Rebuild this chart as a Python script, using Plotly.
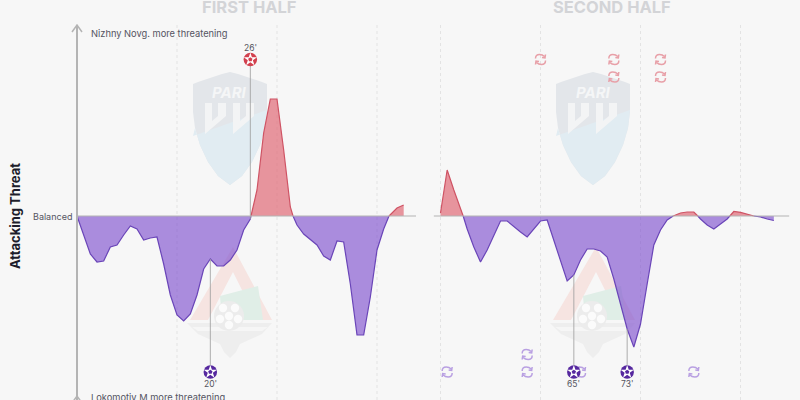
import plotly.graph_objects as go

# ---- data (minutes, threat) ----
first_min = [0,1,2,3,4,5,6,7,8,9,10,11,12,13,14,15,16,17,18,19,20,21,22,23,24,25,26,26.1,
             27,28,29,30,31,32,32.4,33,34,35,36,37,38,39,40,41,42,43,44,45,46,46.8,48,49]
first_val = [0,-19,-38,-46,-45,-31,-29,-19,-10,-13,-24,-22,-21,-48,-79,-99,-105,-98,-79,-53,-43,-50,-50,-44,-34,-14,-3,0,
             26,83,117,117,66,9,0,-9,-18,-24,-29,-40,-44,-25,-26,-68,-119,-119,-81,-34,-13,0,8,11]
second_min = [45,46,47,48,48.4,49,50,51,52,53,54,55,56,57,58,59,60,61,62,63,64,65,66,67,68,69,70,71,72,73,74,75,76,77,78,79,79.9,
              81,82,83,83.6,84,85,86,87,88,88.4,89,90,91,92,93,94,95]
second_val = [3,46,26,6,0,-13,-31,-46,-34,-19,-5,-5,-11,-16,-21,-13,-5,-4,-24,-46,-65,-59,-44,-33,-33,-35,-41,-63,-88,-113,-131,-108,-68,-29,-14,-4,0,
              3,4,4,0,-3,-9,-13,-8,-3,0,4.5,3.7,1.7,0,-1,-3,-4.5]

goal_home_min = [26]
goal_away_first_min = [20]
goal_away_second_min = [65, 73]
sub_home_min = [60, 71, 71, 78, 78]
sub_home_row = [0, 0, 1, 0, 1]
sub_away_min = [46, 58, 58, 66, 83]
sub_away_row = [0, 0, 1, 0, 0]

title_first = "FIRST HALF"
title_second = "SECOND HALF"
label_top = "Nizhny Novg. more threatening"
label_bottom = "Lokomotiv M more threatening"
label_mid = "Balanced"
label_y = "Attacking Threat"

# ---- styling ----
W, H = 800, 400
BG = "#f7f7f7"
RED_FILL = "rgba(224,110,122,0.72)"
RED_LINE = "#cf5364"
PUR_FILL = "rgba(132,88,208,0.68)"
PUR_LINE = "#6a45b8"
RED = "#d2404e"
PUR = "#56289f"
RED_SUB = "#e8a0a8"
PUR_SUB = "#b9a0e2"
FONT = "Inter"
TOP_Y = 156.5
BOTTOM_Y = -156
ROW = 17.5

fig = go.Figure()


def poly(points, fill, layer="below", line=None, width=0):
    path = "M " + " L ".join(f"{x/W:.5f},{1-y/H:.5f}" for x, y in points) + " Z"
    fig.add_shape(type="path", path=path, xref="paper", yref="paper", fillcolor=fill,
                  line=dict(color=line or fill, width=width), layer=layer)


def circle(cx, cy, r, fill):
    fig.add_shape(type="circle", xref="paper", yref="paper", x0=(cx-r)/W, x1=(cx+r)/W,
                  y0=1-(cy+r)/H, y1=1-(cy-r)/H, fillcolor=fill, line_width=0, layer="below")


def shield(dx):
    def p(lst):
        return [(x+dx, y) for x, y in lst]
    outline = [(230,72),(238,74),(250,78),(262,82),(267,84),(267,112),(265,128),(260,145),(252,162),(242,176),(230,185),
               (218,176),(208,162),(200,145),(195,128),(193,112),(193,84),(198,82),(210,78),(222,74)]
    poly(p(outline), "#e3e6ea")
    poly(p([(193,136),(267,110),(265,128),(260,145),(252,162),(242,176),(230,185),(218,176),(208,162),(200,145),(195,128)]), "#e1ecf2")
    for x0 in (205, 233):
        poly(p([(x0,103),(x0+7,103),(x0+7,121),(x0+13,116),(x0+13,103),(x0+21,103),(x0+21,116),(x0,134)]), "#f3f4f5")
    fig.add_annotation(x=(230+dx)/W, y=1-92/H, xref="paper", yref="paper", text="<b><i>PARI</i></b>", showarrow=False,
                       font=dict(family=FONT, size=15, color="#f5f6f7"), xanchor="center", yanchor="middle")


def loko(dx):
    def p(lst):
        return [(x+dx, y) for x, y in lst]
    poly(p([(233,247),(272,320),(257,320),(233,272),(208,320),(190,320)]), "#f6e4e1")
    poly(p([(220,296),(258,286),(263,320),(222,320)]), "#e0eee7")
    poly(p([(187,323),(272,323),(262,334),(240,344),(236,352),(230,358),(224,352),(220,344),(198,334)]), "#eeeeee")
    poly(p([(192,327),(268,327),(262,331),(198,331)]), "#f6f6f6")
    circle(229+dx, 316, 15, "#ececec")
    for ox, oy in ((-6,-8),(6,-8),(-9,3),(9,3),(0,9),(0,0)):
        circle(229+dx+ox, 316+oy, 4.2, "#fbfbfb")


for d in (0, 363):
    shield(d)
    loko(d)

# grid lines
for xr, ticks in (("x", [15, 30, 45]), ("x2", [45, 60, 75, 90])):
    for t in ticks:
        fig.add_shape(type="line", xref=xr, yref="y", x0=t, x1=t, y0=-184, y1=191,
                      line=dict(color="#e3e3e3", width=1, dash="dot"), layer="below")


# threat areas
def add_areas(minutes, values, axis):
    run_x, run_y, sign = [], [], 0
    def flush():
        if len(run_x) > 1:
            fig.add_trace(go.Scatter(x=list(run_x), y=list(run_y), xaxis=axis, yaxis="y", mode="lines",
                                     fill="tozeroy", fillcolor=RED_FILL if sign > 0 else PUR_FILL,
                                     line=dict(color=RED_LINE if sign > 0 else PUR_LINE, width=1.2),
                                     showlegend=False, hoverinfo="skip"))
    for m, v in zip(minutes, values):
        s = (v > 0) - (v < 0)
        if s and sign and s != sign:
            flush()
            run_x, run_y = run_x[-1:], run_y[-1:]
        if s:
            sign = s
        run_x.append(m)
        run_y.append(v)
    flush()


add_areas(first_min, first_val, "x")
add_areas(second_min, second_val, "x2")


def curve_at(minutes, values, m):
    for i in range(len(minutes)-1):
        if minutes[i] <= m <= minutes[i+1]:
            t = (m-minutes[i])/(minutes[i+1]-minutes[i])
            return values[i]+t*(values[i+1]-values[i])
    return 0


def goal(m, axis, end_y, colour, minutes, values):
    fig.add_trace(go.Scatter(x=[m, m], y=[curve_at(minutes, values, m), end_y], xaxis=axis, yaxis="y", mode="lines",
                             line=dict(color="rgba(160,160,160,0.85)", width=1), showlegend=False, hoverinfo="skip"))
    for size, sym, col in ((13.5, "circle", colour), (10, "star", "white"), (4.5, "pentagon", colour)):
        fig.add_trace(go.Scatter(x=[m], y=[end_y], xaxis=axis, yaxis="y", mode="markers",
                                 marker=dict(size=size, symbol=sym, color=col, line_width=0),
                                 showlegend=False, hoverinfo="skip"))
    above = end_y > 0
    fig.add_annotation(x=m, y=end_y, xref=axis, yref="y", text=f"{m}'", showarrow=False,
                       yshift=12 if above else -12, font=dict(family=FONT, size=8.5, color="#555560"))


SUB_PATH = ("M -5,1 Q -5,5 -1,5 Q 2,5 4,3 M 5,5 L 4.5,1.5 L 1.5,2 "
            "M 5,-1 Q 5,-5 1,-5 Q -2,-5 -4,-3 M -5,-5 L -4.5,-1.5 L -1.5,-2")


def sub(m, y, colour):
    fig.add_shape(type="path", path=SUB_PATH, xref="x2", yref="y", xsizemode="pixel", ysizemode="pixel",
                  xanchor=m, yanchor=y, line=dict(color=colour, width=1.5), layer="below")


for m, r in zip(sub_home_min, sub_home_row):
    sub(m, TOP_Y-r*ROW, RED_SUB)
for m, r in zip(sub_away_min, sub_away_row):
    sub(m, BOTTOM_Y+r*ROW, PUR_SUB)

for m in goal_home_min:
    goal(m, "x", TOP_Y, RED, first_min, first_val)
for m in goal_away_first_min:
    goal(m, "x", BOTTOM_Y, PUR, first_min, first_val)
for m in goal_away_second_min:
    goal(m, "x2", BOTTOM_Y, PUR, second_min, second_val)

# baselines and axis arrow
AX = "#b4b4b4"
fig.add_shape(type="line", xref="x", yref="y", x0=0, x1=51.5, y0=0, y1=0, line=dict(color=AX, width=1.2), layer="above")
fig.add_shape(type="line", xref="x2", yref="y", x0=44, x1=97.3, y0=0, y1=0, line=dict(color=AX, width=1.2), layer="above")
fig.add_shape(type="line", xref="x", yref="y", x0=0, x1=0, y0=-184, y1=191, line=dict(color=AX, width=2), layer="above")
fig.add_shape(type="path", xref="paper", yref="paper", layer="above", line=dict(color=AX, width=1.5),
              path=f"M {72/W},{1-32/H} L {77/W},{1-25/H} L {82/W},{1-32/H} M {72/W},{1-403/H} L {77/W},{1-396/H} L {82/W},{1-403/H}")


def text(x, y, s, size, colour, anchor="left", angle=0, bold=False):
    fig.add_annotation(x=x/W, y=1-y/H, xref="paper", yref="paper", text=f"<b>{s}</b>" if bold else s, showarrow=False,
                       xanchor=anchor, yanchor="middle", textangle=angle,
                       font=dict(family=FONT, size=size, color=colour))


text(249, 7, title_first, 16.5, "#d3d4d7", "center", bold=True)
text(612, 7, title_second, 16.5, "#d3d4d7", "center", bold=True)
text(89, 34, label_top, 9.3, "#555562")
text(89, 397, label_bottom, 9.3, "#555562")
text(74, 216, label_mid, 9, "#555562", "right")
text(15, 216, label_y, 13, "#1d1d2b", "center", angle=-90, bold=True)

# x maps 6.667 px per minute; y is 1 unit per px
fig.update_layout(
    width=W, height=H, margin=dict(l=0, r=0, t=0, b=0), paper_bgcolor=BG, plot_bgcolor=BG, showlegend=False,
    xaxis=dict(domain=[0, 0.52], range=[-11.55, 50.85], visible=False, fixedrange=True),
    xaxis2=dict(domain=[0.52, 1], range=[41.325, 98.925], visible=False, fixedrange=True, anchor="y"),
    yaxis=dict(domain=[0, 1], range=[-184, 216], visible=False, fixedrange=True),
)

fig.write_html("out.html", config={"displayModeBar": False},
               post_script="document.body.style.margin='0';document.body.style.overflow='hidden';")
